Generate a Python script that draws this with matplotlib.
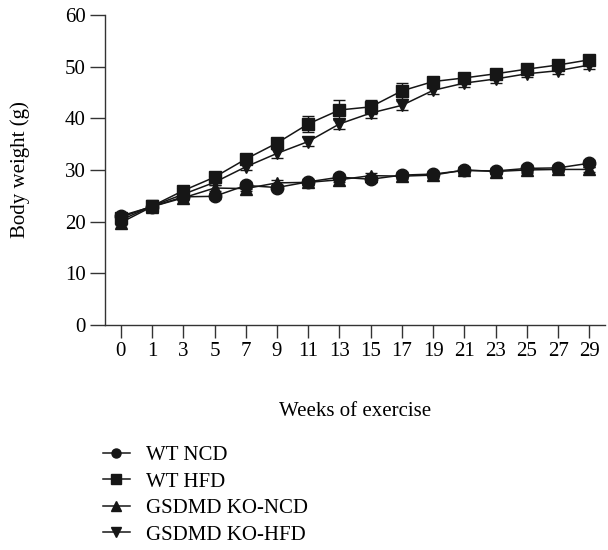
import numpy as np
import matplotlib.pyplot as plt
from matplotlib.lines import Line2D

plt.rcParams['font.family'] = ['Liberation Serif', 'DejaVu Serif']

weeks = ["0", "1", "3", "5", "7", "9", "11", "13", "15", "17", "19", "21", "23", "25", "27", "29"]

wt_ncd = [21.1, 22.9, 24.8, 24.9, 27.0, 26.6, 27.7, 28.6, 28.2, 29.0, 29.2, 29.9, 29.8, 30.3, 30.4, 31.3]
wt_ncd_err = [0.5, 0.4, 0.5, 0.5, 0.6, 0.5, 0.6, 0.6, 0.6, 0.6, 0.6, 0.6, 0.6, 0.6, 0.6, 0.7]

wt_hfd = [20.8, 23.0, 26.0, 28.6, 32.1, 35.2, 38.9, 41.6, 42.2, 45.3, 47.1, 47.8, 48.6, 49.5, 50.3, 51.3]
wt_hfd_err = [0.5, 0.5, 0.6, 0.7, 0.8, 0.9, 1.6, 1.9, 1.4, 1.5, 0.9, 0.8, 0.8, 0.8, 0.8, 0.8]

ko_ncd = [19.8, 22.9, 24.6, 26.5, 26.4, 27.5, 27.6, 28.1, 28.9, 28.8, 29.0, 30.0, 29.7, 30.0, 30.1, 30.1]
ko_ncd_err = [0.5, 0.4, 0.5, 0.5, 0.5, 0.5, 0.5, 0.5, 0.5, 0.5, 0.5, 0.5, 0.5, 0.5, 0.5, 0.5]

ko_hfd = [20.3, 23.0, 25.3, 27.6, 30.6, 33.2, 35.5, 38.9, 41.0, 42.5, 45.4, 46.8, 47.6, 48.6, 49.2, 50.3]
ko_hfd_err = [0.5, 0.5, 0.5, 0.6, 0.7, 0.8, 0.9, 1.0, 0.9, 0.9, 0.8, 0.8, 0.7, 0.7, 0.7, 0.7]

x = np.arange(len(weeks))
col = '#161616'

fig = plt.figure(figsize=(6.08, 5.5), dpi=100)
ax = fig.add_axes([0.173, 0.409, 0.822, 0.564])

series = [
    (wt_ncd, wt_ncd_err, 'o', 'WT NCD'),
    (wt_hfd, wt_hfd_err, 's', 'WT HFD'),
    (ko_ncd, ko_ncd_err, '^', 'GSDMD KO-NCD'),
    (ko_hfd, ko_hfd_err, 'v', 'GSDMD KO-HFD'),
]
handles = []
for vals, err, mk, lab in series:
    ax.errorbar(x, vals, yerr=err, color=col, marker=mk, markersize=9,
                linewidth=1.1, elinewidth=1.0, capsize=4, capthick=1.0)
    handles.append(Line2D([], [], color=col, marker=mk, markersize=6.5,
                          linewidth=1.1, label=lab))

ax.set_xlim(-0.5, 15.5)
ax.set_ylim(0, 60)
ax.set_xticks(x)
ax.set_xticklabels(weeks)
ax.set_yticks(np.arange(0, 61, 10))
ax.spines['top'].set_visible(False)
ax.spines['right'].set_visible(False)
for s in ['left', 'bottom']:
    ax.spines[s].set_linewidth(1.0)
    ax.spines[s].set_color('#333333')
ax.tick_params(axis='x', length=9, width=1.0, pad=3, labelsize=15, color='#333333')
ax.tick_params(axis='y', length=11, width=1.0, pad=3, labelsize=15, color='#333333')

ax.set_xlabel("Weeks of exercise", fontsize=15, labelpad=30)
ax.set_ylabel("Body weight (g)", fontsize=15, labelpad=25)

fig.legend(handles=handles, loc='upper left', bbox_to_anchor=(0.155, 0.205),
           frameon=False, fontsize=15, handlelength=1.3,
           handletextpad=0.8, labelspacing=0.33, borderaxespad=0)

plt.savefig("out.png", dpi=100)
